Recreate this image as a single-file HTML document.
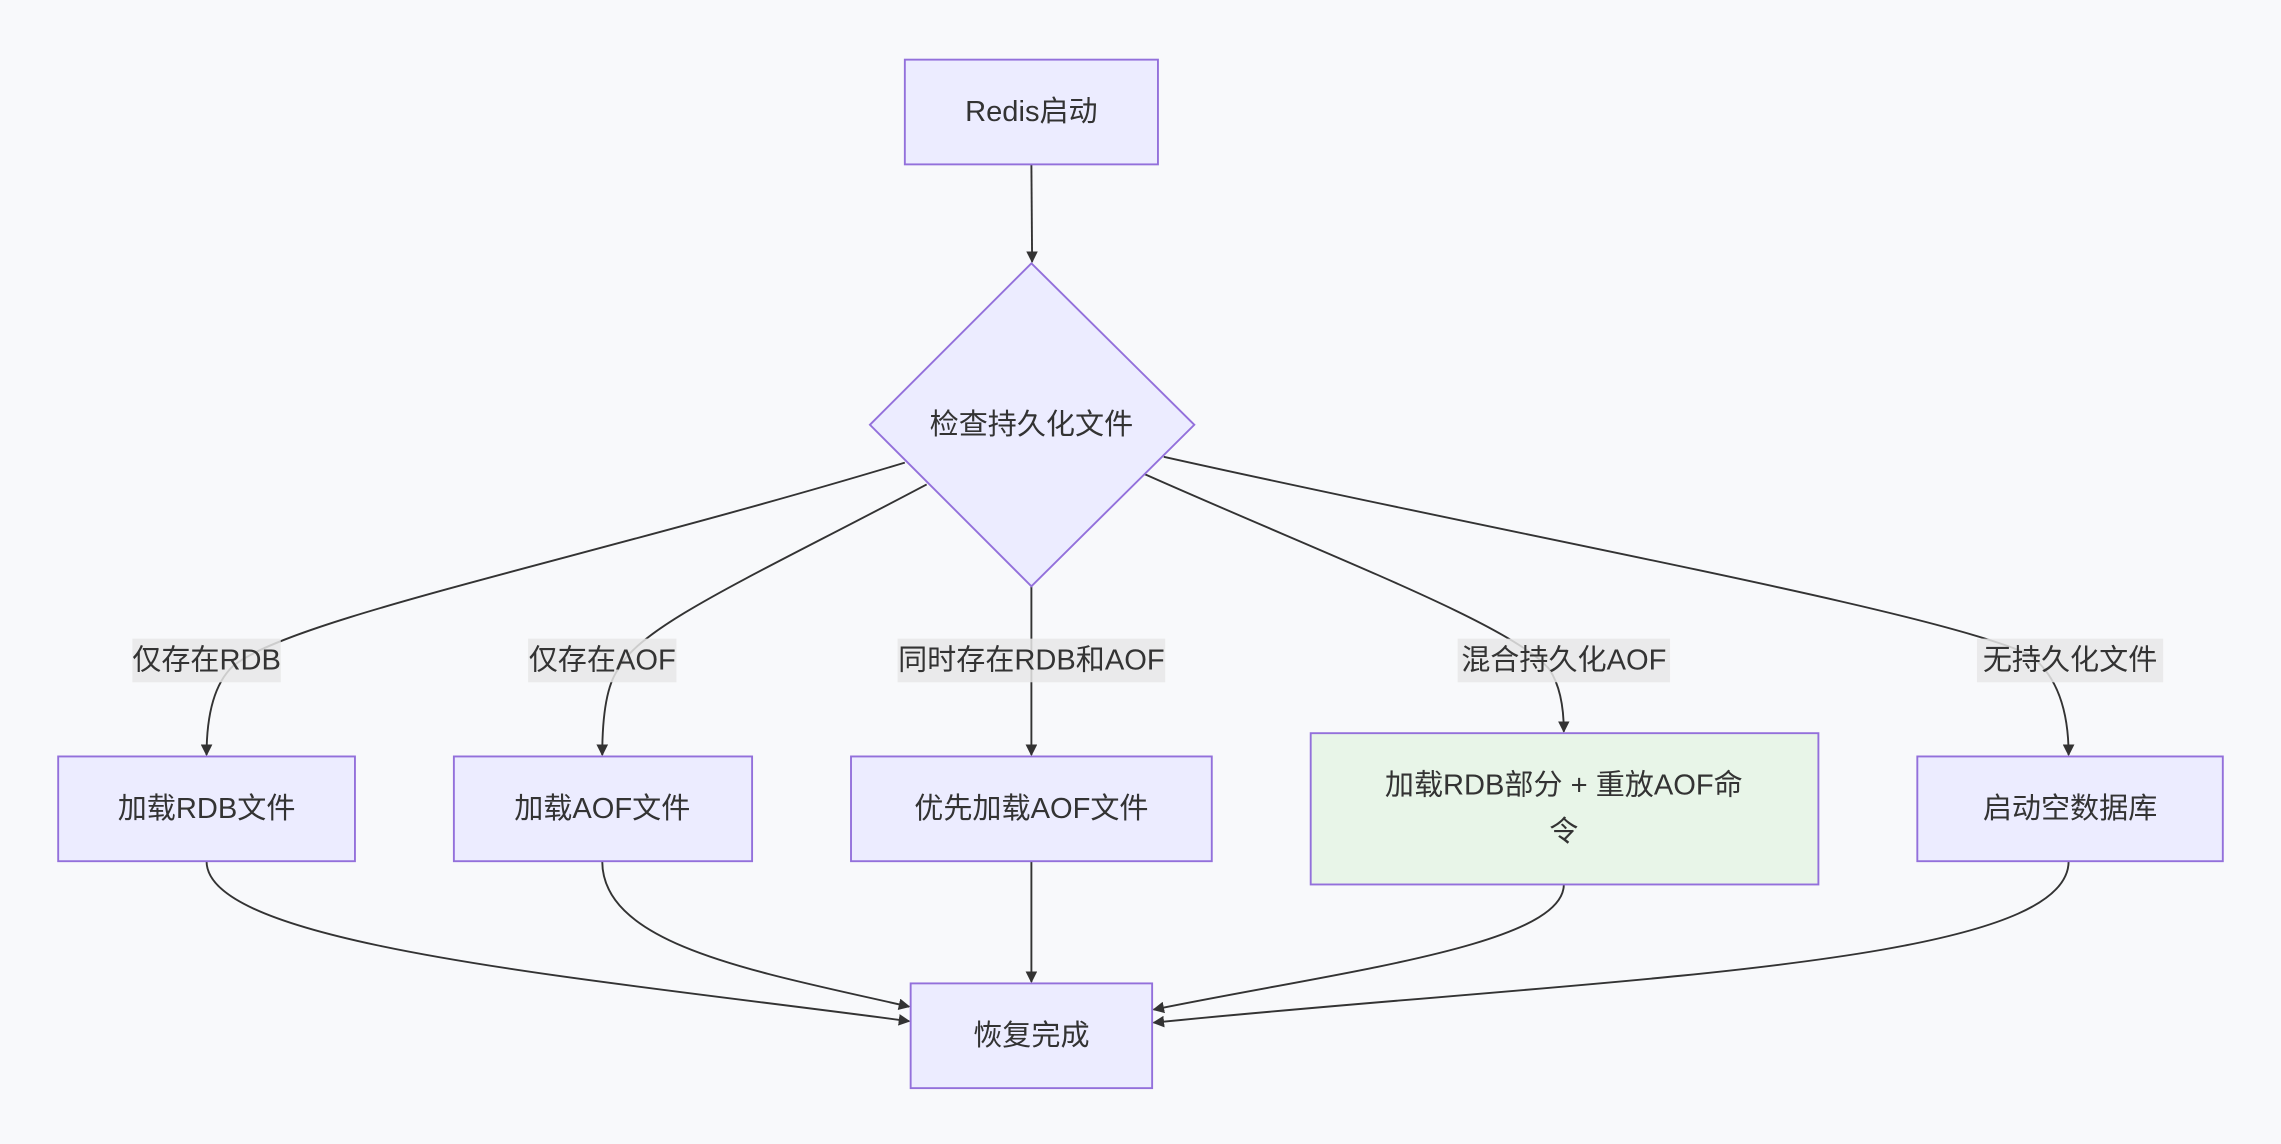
<!DOCTYPE html>
<html><head><meta charset="utf-8"><style>
html,body{margin:0;padding:0;background:#f8f9fb;}
svg{display:block}
text{font-family:"Liberation Sans","Noto Sans CJK SC",sans-serif;font-size:20px;fill:#333;text-anchor:middle;dominant-baseline:central}
.n{fill:#ececff;stroke:#9370db;stroke-width:1.3}
.e{fill:none;stroke:#333;stroke-width:1.3;marker-end:url(#a)}
.l{fill:#e8e8e8;opacity:0.85}
</style></head><body>
<svg width="2281" height="1144" viewBox="0 0 1568 786.4" preserveAspectRatio="none">
<defs><marker id="a" viewBox="0 0 10 10" refX="9" refY="5" markerWidth="8" markerHeight="8" markerUnits="userSpaceOnUse" orient="auto"><path d="M0,0L10,5L0,10z" fill="#333"/></marker></defs>
<rect width="1568" height="786.4" fill="#f8f9fb"/>
<path class="e" d="M709,113 L709.5,180"/>
<path class="e" d="M622,318 C400,385 200,425 160,458 Q142,475 142,519"/>
<path class="e" d="M637,333 C520,395 440,430 425,460 Q414,475 414,519"/>
<path class="e" d="M709,403 L709,519"/>
<path class="e" d="M787,326 C920,385 1040,430 1065,460 Q1075,475 1075,503"/>
<path class="e" d="M800,314 C1050,370 1330,420 1395,450 Q1422,470 1422,519"/>
<path class="e" d="M142,592 C142,650 400,672 625,702"/>
<path class="e" d="M414,592 C414,650 520,668 625,692"/>
<path class="e" d="M709,592 L709,675"/>
<path class="e" d="M1075,608 C1075,650 920,668 793,694"/>
<path class="e" d="M1422,592 C1422,665 1100,672 793,703"/>
<rect class="n" x="622" y="41" width="174" height="72"/><text x="709" y="77">Redis启动</text>
<polygon class="n" points="709,181 821,292 709,403 598,292"/><text x="709" y="292">检查持久化文件</text>
<rect class="l" x="91" y="439" width="102" height="30"/><text x="142" y="454">仅存在RDB</text>
<rect class="l" x="363" y="439" width="102" height="30"/><text x="414" y="454">仅存在AOF</text>
<rect class="l" x="617" y="439" width="184" height="30"/><text x="709" y="454">同时存在RDB和AOF</text>
<rect class="l" x="1002" y="439" width="146" height="30"/><text x="1075" y="454">混合持久化AOF</text>
<rect class="l" x="1359" y="439" width="128" height="30"/><text x="1423" y="454">无持久化文件</text>
<rect class="n" x="40" y="520" width="204" height="72"/><text x="142" y="556">加载RDB文件</text>
<rect class="n" x="312" y="520" width="205" height="72"/><text x="414" y="556">加载AOF文件</text>
<rect class="n" x="585" y="520" width="248" height="72"/><text x="709" y="556">优先加载AOF文件</text>
<rect class="n" x="901" y="504" width="349" height="104" style="fill:#e8f5e8"/><text x="1075" y="540">加载RDB部分 + 重放AOF命</text><text x="1075" y="572">令</text>
<rect class="n" x="1318" y="520" width="210" height="72"/><text x="1423" y="556">启动空数据库</text>
<rect class="n" x="626" y="676" width="166" height="72"/><text x="709" y="712">恢复完成</text>
</svg>
</body></html>
